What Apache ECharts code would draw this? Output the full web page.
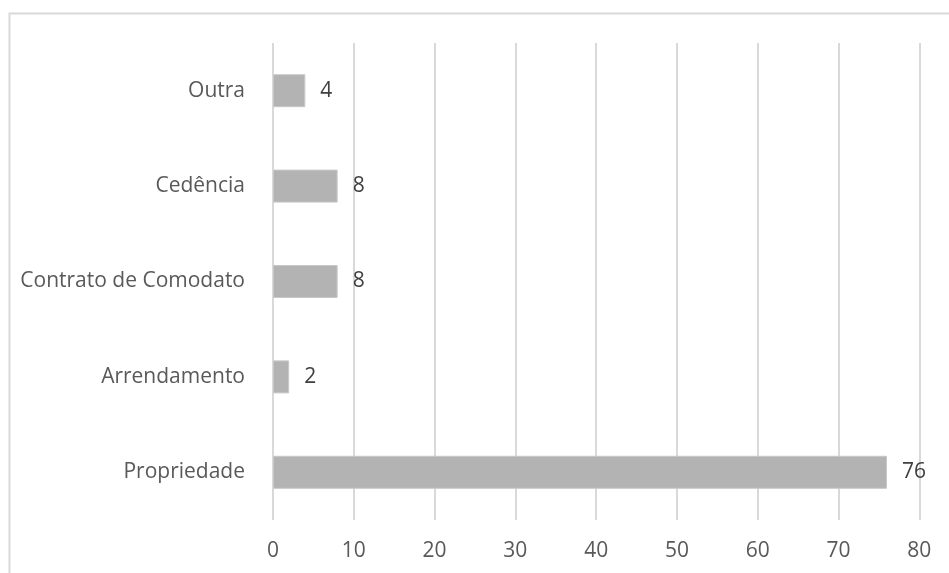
<!DOCTYPE html>
<html>
<head>
<meta charset="utf-8">
<script src="https://cdn.jsdelivr.net/npm/echarts@6/dist/echarts.min.js"></script>
<style>html,body{margin:0;padding:0;background:#fff}#c{width:949px;height:573px}</style>
</head>
<body>
<div id="c"></div>
<script>
var categories = ['Propriedade', 'Arrendamento', 'Contrato de Comodato', 'Cedência', 'Outra'];
var values = [76, 2, 8, 8, 4];
var xTicks = [0, 10, 20, 30, 40, 50, 60, 70, 80];

var chart = echarts.init(document.getElementById('c'), null, {renderer: 'canvas'});
var font = '"Open Sans", "Liberation Sans", sans-serif';
chart.setOption({
  animation: false,
  backgroundColor: '#ffffff',
  graphic: [{
    type: 'polyline',
    shape: {points: [[9.5, 700], [9.5, 13.5], [960, 13.5]]},
    style: {stroke: '#d9d9d9', lineWidth: 2, fill: null},
    silent: true
  }],
  grid: {left: 273, right: 29.7, top: 43, bottom: 53, containLabel: false},
  xAxis: {
    type: 'value',
    min: xTicks[0],
    max: xTicks[xTicks.length - 1],
    interval: 10,
    axisLine: {show: false},
    axisTick: {show: false},
    splitLine: {show: true, lineStyle: {color: '#d9d9d9', width: 2}},
    axisLabel: {color: '#595959', fontSize: 21, fontFamily: font, margin: 21}
  },
  yAxis: {
    type: 'category',
    data: categories,
    axisLine: {show: false},
    axisTick: {show: false},
    axisLabel: {color: '#595959', fontSize: 21, fontFamily: font, margin: 28}
  },
  series: [{
    type: 'bar',
    data: values,
    barWidth: 33,
    itemStyle: {color: '#b3b3b3', borderColor: '#c8c8c8', borderWidth: 1},
    label: {show: true, position: 'right', distance: 15, color: '#404040', fontSize: 21, fontFamily: font}
  }]
});
</script>
</body>
</html>
